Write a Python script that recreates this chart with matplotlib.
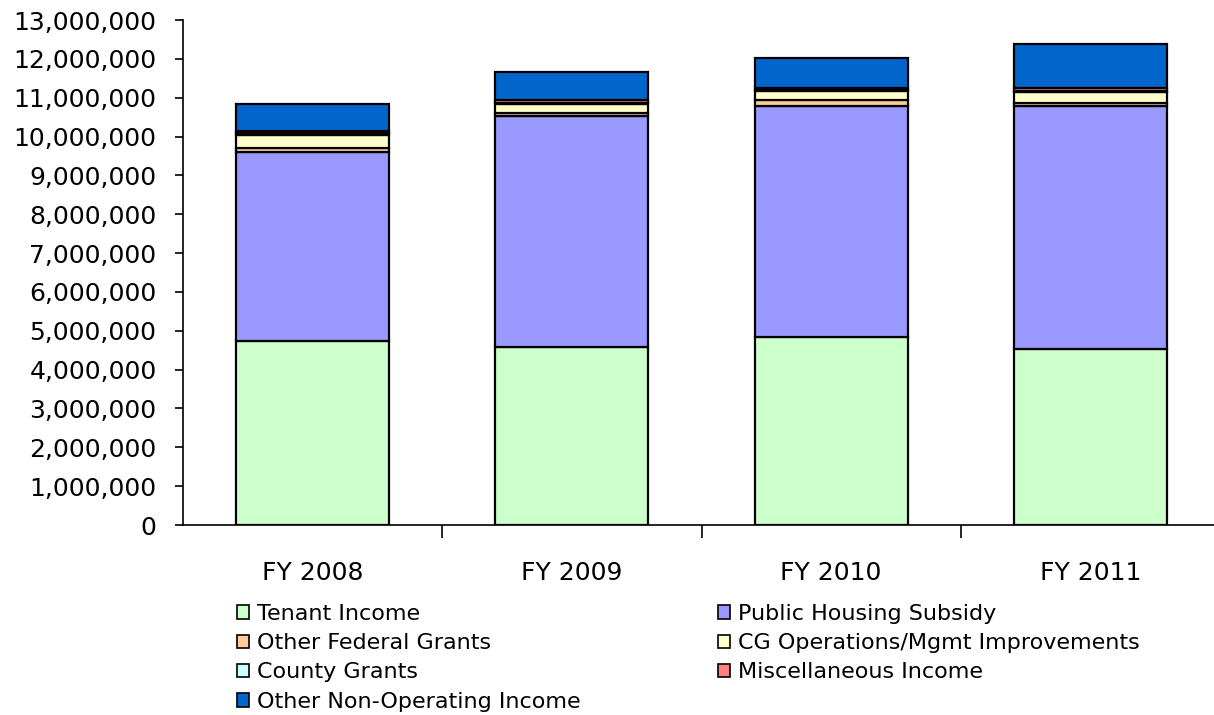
import numpy as np
import matplotlib
matplotlib.use("Agg")
import matplotlib.pyplot as plt
from matplotlib.ticker import FuncFormatter, FixedLocator
from matplotlib.patches import Patch

# values (dollars)
years = ["FY 2008", "FY 2009", "FY 2010", "FY 2011"]
tenant_income = [4740000, 4580000, 4840000, 4530000]
public_housing_subsidy = [4870000, 5950000, 5940000, 6250000]
other_federal_grants = [100000, 80000, 150000, 90000]
cg_operations = [340000, 230000, 240000, 270000]
county_grants = [40000, 30000, 30000, 40000]
misc_income = [50000, 80000, 40000, 60000]
other_non_operating = [690000, 710000, 770000, 1150000]

series = [
    ("Tenant Income", tenant_income, "#CCFFCC"),
    ("Public Housing Subsidy", public_housing_subsidy, "#9999FF"),
    ("Other Federal Grants", other_federal_grants, "#FFCC99"),
    ("CG Operations/Mgmt Improvements", cg_operations, "#FFFFCC"),
    ("County Grants", county_grants, "#CCFFFF"),
    ("Miscellaneous Income", misc_income, "#FF8080"),
    ("Other Non-Operating Income", other_non_operating, "#0066CC"),
]

plt.rcParams["font.family"] = ["DejaVu Sans"]

fig = plt.figure(figsize=(12.14, 7.15), dpi=100)
ax = fig.add_axes([0.1507, 0.2657, 1.005 - 0.1507, 0.972 - 0.2657])

x = np.arange(len(years))
bottom = np.zeros(len(years))
handles = {}
for name, vals, col in series:
    ax.bar(x, vals, width=0.59, bottom=bottom, color=col,
           edgecolor="black", linewidth=1.6, zorder=2)
    bottom += np.array(vals)
    handles[name] = Patch(facecolor=col, edgecolor="black", linewidth=1.2)

ax.set_xlim(-0.5, len(years) - 0.5)
ax.set_ylim(0, 13000000)
ax.set_yticks(np.arange(0, 13000001, 1000000))
ax.yaxis.set_major_formatter(FuncFormatter(lambda v, p: f"{int(v):,}"))
ax.set_xticks(x)
ax.set_xticklabels(years)
ax.xaxis.set_minor_locator(FixedLocator([0.5, 1.5, 2.5]))
ax.tick_params(axis="x", which="major", length=0, pad=26, labelsize=18)
ax.tick_params(axis="x", which="minor", length=9, width=1.2, direction="out")
ax.tick_params(axis="y", length=6, width=1.2, direction="out", labelsize=18, pad=13)

for s in ["top", "right"]:
    ax.spines[s].set_visible(False)
ax.spines["left"].set_linewidth(1.2)
ax.spines["bottom"].set_linewidth(1.2)

# legend reads row by row in the reference, so reorder for column filling
order = ["Tenant Income", "Other Federal Grants", "County Grants",
         "Other Non-Operating Income", "Public Housing Subsidy",
         "CG Operations/Mgmt Improvements", "Miscellaneous Income"]
fig.legend([handles[n] for n in order], order, ncol=2, frameon=False,
           loc="upper left", bbox_to_anchor=(0.1875, 0.168), fontsize=16,
           handlelength=0.55, handleheight=0.55, handletextpad=0.35,
           columnspacing=6.2, labelspacing=0.42, borderaxespad=0)

fig.savefig("out.png", dpi=100)
